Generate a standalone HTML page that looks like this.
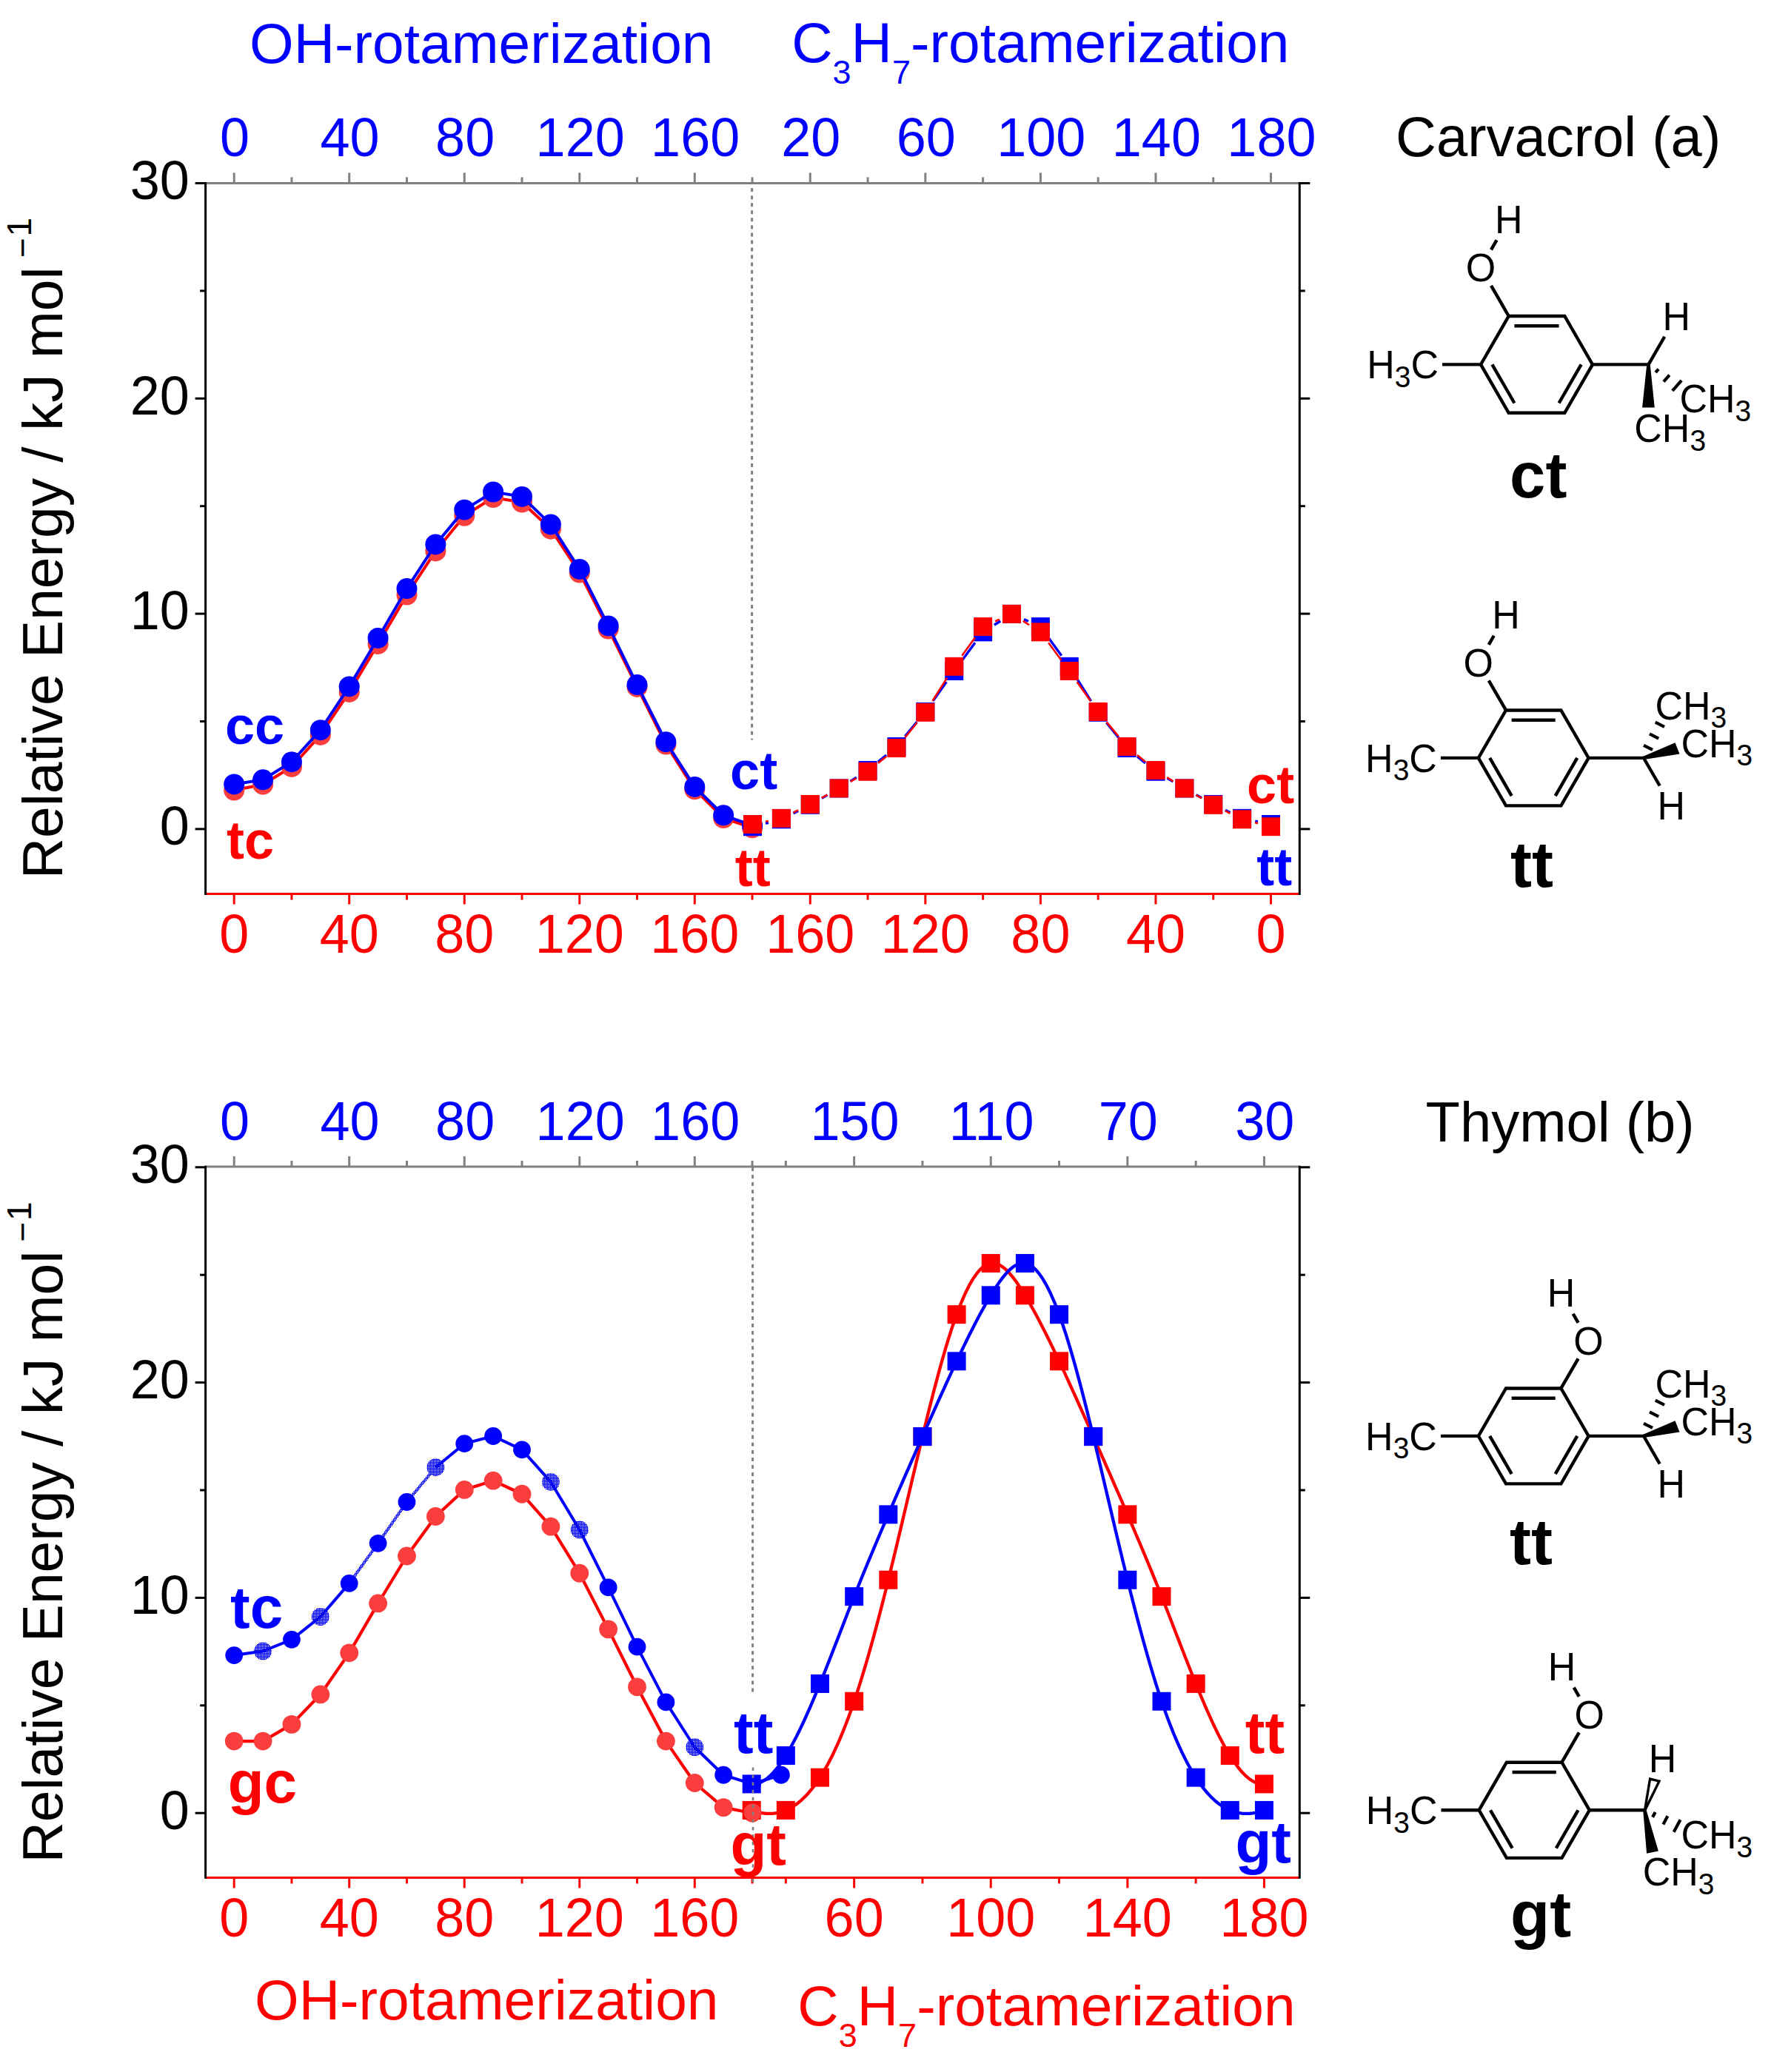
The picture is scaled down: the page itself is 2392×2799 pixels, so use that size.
<!DOCTYPE html><html><head><meta charset="utf-8"><title>Rotamerization energy profiles</title><style>html,body{margin:0;padding:0;background:#fff}svg{display:block}</style></head><body><svg width="2392" height="2799" viewBox="0 0 2392 2799" font-family="Liberation Sans, Arial, Helvetica, sans-serif">
<defs><pattern id="hb" width="2" height="2" patternUnits="userSpaceOnUse"><rect width="2" height="2" fill="#0000ff"/><rect x="0" y="0" width="1" height="1" fill="#ffffff"/></pattern></defs>
<rect width="2392" height="2799" fill="#fff"/>
<line x1="277.60" y1="247.40" x2="1755.30" y2="247.40" stroke="#808080" stroke-width="3.0" />
<line x1="277.60" y1="1207.60" x2="1755.30" y2="1207.60" stroke="#ff0000" stroke-width="3.0" />
<line x1="277.60" y1="246.10" x2="277.60" y2="1208.90" stroke="#000" stroke-width="3" />
<line x1="1755.30" y1="246.10" x2="1755.30" y2="1208.90" stroke="#000" stroke-width="3" />
<line x1="316.20" y1="247.40" x2="316.20" y2="233.40" stroke="#808080" stroke-width="3.0" />
<line x1="316.20" y1="1207.60" x2="316.20" y2="1221.60" stroke="#ff0000" stroke-width="3.0" />
<line x1="471.72" y1="247.40" x2="471.72" y2="233.40" stroke="#808080" stroke-width="3.0" />
<line x1="471.72" y1="1207.60" x2="471.72" y2="1221.60" stroke="#ff0000" stroke-width="3.0" />
<line x1="627.24" y1="247.40" x2="627.24" y2="233.40" stroke="#808080" stroke-width="3.0" />
<line x1="627.24" y1="1207.60" x2="627.24" y2="1221.60" stroke="#ff0000" stroke-width="3.0" />
<line x1="782.76" y1="247.40" x2="782.76" y2="233.40" stroke="#808080" stroke-width="3.0" />
<line x1="782.76" y1="1207.60" x2="782.76" y2="1221.60" stroke="#ff0000" stroke-width="3.0" />
<line x1="938.28" y1="247.40" x2="938.28" y2="233.40" stroke="#808080" stroke-width="3.0" />
<line x1="938.28" y1="1207.60" x2="938.28" y2="1221.60" stroke="#ff0000" stroke-width="3.0" />
<line x1="1094.28" y1="247.40" x2="1094.28" y2="233.40" stroke="#808080" stroke-width="3.0" />
<line x1="1094.28" y1="1207.60" x2="1094.28" y2="1221.60" stroke="#ff0000" stroke-width="3.0" />
<line x1="1249.84" y1="247.40" x2="1249.84" y2="233.40" stroke="#808080" stroke-width="3.0" />
<line x1="1249.84" y1="1207.60" x2="1249.84" y2="1221.60" stroke="#ff0000" stroke-width="3.0" />
<line x1="1405.40" y1="247.40" x2="1405.40" y2="233.40" stroke="#808080" stroke-width="3.0" />
<line x1="1405.40" y1="1207.60" x2="1405.40" y2="1221.60" stroke="#ff0000" stroke-width="3.0" />
<line x1="1560.96" y1="247.40" x2="1560.96" y2="233.40" stroke="#808080" stroke-width="3.0" />
<line x1="1560.96" y1="1207.60" x2="1560.96" y2="1221.60" stroke="#ff0000" stroke-width="3.0" />
<line x1="1716.52" y1="247.40" x2="1716.52" y2="233.40" stroke="#808080" stroke-width="3.0" />
<line x1="1716.52" y1="1207.60" x2="1716.52" y2="1221.60" stroke="#ff0000" stroke-width="3.0" />
<line x1="393.96" y1="247.40" x2="393.96" y2="239.40" stroke="#808080" stroke-width="3.0" />
<line x1="393.96" y1="1207.60" x2="393.96" y2="1215.60" stroke="#ff0000" stroke-width="3.0" />
<line x1="549.48" y1="247.40" x2="549.48" y2="239.40" stroke="#808080" stroke-width="3.0" />
<line x1="549.48" y1="1207.60" x2="549.48" y2="1215.60" stroke="#ff0000" stroke-width="3.0" />
<line x1="705.00" y1="247.40" x2="705.00" y2="239.40" stroke="#808080" stroke-width="3.0" />
<line x1="705.00" y1="1207.60" x2="705.00" y2="1215.60" stroke="#ff0000" stroke-width="3.0" />
<line x1="860.52" y1="247.40" x2="860.52" y2="239.40" stroke="#808080" stroke-width="3.0" />
<line x1="860.52" y1="1207.60" x2="860.52" y2="1215.60" stroke="#ff0000" stroke-width="3.0" />
<line x1="1016.04" y1="247.40" x2="1016.04" y2="239.40" stroke="#808080" stroke-width="3.0" />
<line x1="1016.04" y1="1207.60" x2="1016.04" y2="1215.60" stroke="#ff0000" stroke-width="3.0" />
<line x1="1172.06" y1="247.40" x2="1172.06" y2="239.40" stroke="#808080" stroke-width="3.0" />
<line x1="1172.06" y1="1207.60" x2="1172.06" y2="1215.60" stroke="#ff0000" stroke-width="3.0" />
<line x1="1327.62" y1="247.40" x2="1327.62" y2="239.40" stroke="#808080" stroke-width="3.0" />
<line x1="1327.62" y1="1207.60" x2="1327.62" y2="1215.60" stroke="#ff0000" stroke-width="3.0" />
<line x1="1483.18" y1="247.40" x2="1483.18" y2="239.40" stroke="#808080" stroke-width="3.0" />
<line x1="1483.18" y1="1207.60" x2="1483.18" y2="1215.60" stroke="#ff0000" stroke-width="3.0" />
<line x1="1638.74" y1="247.40" x2="1638.74" y2="239.40" stroke="#808080" stroke-width="3.0" />
<line x1="1638.74" y1="1207.60" x2="1638.74" y2="1215.60" stroke="#ff0000" stroke-width="3.0" />
<line x1="277.60" y1="1119.90" x2="263.60" y2="1119.90" stroke="#000" stroke-width="3.0" />
<line x1="1755.30" y1="1119.90" x2="1769.30" y2="1119.90" stroke="#000" stroke-width="3.0" />
<text transform="translate(255.80,1141.20) scale(1,1.035)" font-size="72" fill="#000" text-anchor="end" >0</text>
<line x1="277.60" y1="829.10" x2="263.60" y2="829.10" stroke="#000" stroke-width="3.0" />
<line x1="1755.30" y1="829.10" x2="1769.30" y2="829.10" stroke="#000" stroke-width="3.0" />
<text transform="translate(255.80,850.40) scale(1,1.035)" font-size="72" fill="#000" text-anchor="end" >10</text>
<line x1="277.60" y1="538.30" x2="263.60" y2="538.30" stroke="#000" stroke-width="3.0" />
<line x1="1755.30" y1="538.30" x2="1769.30" y2="538.30" stroke="#000" stroke-width="3.0" />
<text transform="translate(255.80,559.60) scale(1,1.035)" font-size="72" fill="#000" text-anchor="end" >20</text>
<line x1="277.60" y1="247.50" x2="263.60" y2="247.50" stroke="#000" stroke-width="3.0" />
<line x1="1755.30" y1="247.50" x2="1769.30" y2="247.50" stroke="#000" stroke-width="3.0" />
<text transform="translate(255.80,268.80) scale(1,1.035)" font-size="72" fill="#000" text-anchor="end" >30</text>
<line x1="277.60" y1="974.50" x2="270.10" y2="974.50" stroke="#000" stroke-width="3.0" />
<line x1="1755.30" y1="974.50" x2="1762.80" y2="974.50" stroke="#000" stroke-width="3.0" />
<line x1="277.60" y1="683.70" x2="270.10" y2="683.70" stroke="#000" stroke-width="3.0" />
<line x1="1755.30" y1="683.70" x2="1762.80" y2="683.70" stroke="#000" stroke-width="3.0" />
<line x1="277.60" y1="392.90" x2="270.10" y2="392.90" stroke="#000" stroke-width="3.0" />
<line x1="1755.30" y1="392.90" x2="1762.80" y2="392.90" stroke="#000" stroke-width="3.0" />
<text transform="translate(317.10,211.10) scale(1,1.035)" font-size="72" fill="#0000ff" text-anchor="middle" >0</text>
<text transform="translate(472.62,211.10) scale(1,1.035)" font-size="72" fill="#0000ff" text-anchor="middle" >40</text>
<text transform="translate(628.14,211.10) scale(1,1.035)" font-size="72" fill="#0000ff" text-anchor="middle" >80</text>
<text transform="translate(783.66,211.10) scale(1,1.035)" font-size="72" fill="#0000ff" text-anchor="middle" >120</text>
<text transform="translate(939.18,211.10) scale(1,1.035)" font-size="72" fill="#0000ff" text-anchor="middle" >160</text>
<text transform="translate(1095.18,211.10) scale(1,1.035)" font-size="72" fill="#0000ff" text-anchor="middle" >20</text>
<text transform="translate(1250.74,211.10) scale(1,1.035)" font-size="72" fill="#0000ff" text-anchor="middle" >60</text>
<text transform="translate(1406.30,211.10) scale(1,1.035)" font-size="72" fill="#0000ff" text-anchor="middle" >100</text>
<text transform="translate(1561.86,211.10) scale(1,1.035)" font-size="72" fill="#0000ff" text-anchor="middle" >140</text>
<text transform="translate(1717.42,211.10) scale(1,1.035)" font-size="72" fill="#0000ff" text-anchor="middle" >180</text>
<text transform="translate(316.20,1286.60) scale(1,1.035)" font-size="72" fill="#ff0000" text-anchor="middle" >0</text>
<text transform="translate(471.72,1286.60) scale(1,1.035)" font-size="72" fill="#ff0000" text-anchor="middle" >40</text>
<text transform="translate(627.24,1286.60) scale(1,1.035)" font-size="72" fill="#ff0000" text-anchor="middle" >80</text>
<text transform="translate(782.76,1286.60) scale(1,1.035)" font-size="72" fill="#ff0000" text-anchor="middle" >120</text>
<text transform="translate(938.28,1286.60) scale(1,1.035)" font-size="72" fill="#ff0000" text-anchor="middle" >160</text>
<text transform="translate(1094.28,1286.60) scale(1,1.035)" font-size="72" fill="#ff0000" text-anchor="middle" >160</text>
<text transform="translate(1249.84,1286.60) scale(1,1.035)" font-size="72" fill="#ff0000" text-anchor="middle" >120</text>
<text transform="translate(1405.40,1286.60) scale(1,1.035)" font-size="72" fill="#ff0000" text-anchor="middle" >80</text>
<text transform="translate(1560.96,1286.60) scale(1,1.035)" font-size="72" fill="#ff0000" text-anchor="middle" >40</text>
<text transform="translate(1716.52,1286.60) scale(1,1.035)" font-size="72" fill="#ff0000" text-anchor="middle" >0</text>
<line x1="1015.6" y1="254.1" x2="1015.6" y2="999.5" stroke="#808080" stroke-width="3" stroke-dasharray="5 5.05"/>
<polyline points="316.20,1067.51 355.08,1059.71 393.96,1035.97 432.84,992.93 471.72,934.89 510.60,869.96 549.48,803.58 588.36,744.46 627.24,696.74 666.12,672.11 705.00,678.50 743.88,714.72 782.76,773.50 821.64,849.58 860.52,927.96 899.40,1005.53 938.28,1066.30 977.16,1104.99 1016.04,1118.36" fill="none" stroke="#ff0000" stroke-width="4.0" stroke-linejoin="round" />
<circle cx="316.20" cy="1067.51" r="14" fill="#fa3e3e"/>
<circle cx="355.08" cy="1059.71" r="14" fill="#fa3e3e"/>
<circle cx="393.96" cy="1035.97" r="14" fill="#fa3e3e"/>
<circle cx="432.84" cy="992.93" r="14" fill="#fa3e3e"/>
<circle cx="471.72" cy="934.89" r="14" fill="#fa3e3e"/>
<circle cx="510.60" cy="869.96" r="14" fill="#fa3e3e"/>
<circle cx="549.48" cy="803.58" r="14" fill="#fa3e3e"/>
<circle cx="588.36" cy="744.46" r="14" fill="#fa3e3e"/>
<circle cx="627.24" cy="696.74" r="14" fill="#fa3e3e"/>
<circle cx="666.12" cy="672.11" r="14" fill="#fa3e3e"/>
<circle cx="705.00" cy="678.50" r="14" fill="#fa3e3e"/>
<circle cx="743.88" cy="714.72" r="14" fill="#fa3e3e"/>
<circle cx="782.76" cy="773.50" r="14" fill="#fa3e3e"/>
<circle cx="821.64" cy="849.58" r="14" fill="#fa3e3e"/>
<circle cx="860.52" cy="927.96" r="14" fill="#fa3e3e"/>
<circle cx="899.40" cy="1005.53" r="14" fill="#fa3e3e"/>
<circle cx="938.28" cy="1066.30" r="14" fill="#fa3e3e"/>
<circle cx="977.16" cy="1104.99" r="14" fill="#fa3e3e"/>
<circle cx="1016.04" cy="1118.36" r="14" fill="#fa3e3e"/>
<polyline points="316.20,1059.41 355.08,1053.31 393.96,1029.17 432.84,986.13 471.72,927.39 510.60,861.96 549.48,795.08 588.36,735.46 627.24,688.64 666.12,664.51 705.00,670.90 743.88,708.42 782.76,768.90 821.64,845.38 860.52,925.06 899.40,1002.13 938.28,1062.90 977.16,1101.29 1016.04,1114.96" fill="none" stroke="#0000ff" stroke-width="4.0" stroke-linejoin="round" />
<circle cx="316.20" cy="1059.41" r="14" fill="#0000ff"/>
<circle cx="355.08" cy="1053.31" r="14" fill="#0000ff"/>
<circle cx="393.96" cy="1029.17" r="14" fill="#0000ff"/>
<circle cx="432.84" cy="986.13" r="14" fill="#0000ff"/>
<circle cx="471.72" cy="927.39" r="14" fill="#0000ff"/>
<circle cx="510.60" cy="861.96" r="14" fill="#0000ff"/>
<circle cx="549.48" cy="795.08" r="14" fill="#0000ff"/>
<circle cx="588.36" cy="735.46" r="14" fill="#0000ff"/>
<circle cx="627.24" cy="688.64" r="14" fill="#0000ff"/>
<circle cx="666.12" cy="664.51" r="14" fill="#0000ff"/>
<circle cx="705.00" cy="670.90" r="14" fill="#0000ff"/>
<circle cx="743.88" cy="708.42" r="14" fill="#0000ff"/>
<circle cx="782.76" cy="768.90" r="14" fill="#0000ff"/>
<circle cx="821.64" cy="845.38" r="14" fill="#0000ff"/>
<circle cx="860.52" cy="925.06" r="14" fill="#0000ff"/>
<circle cx="899.40" cy="1002.13" r="14" fill="#0000ff"/>
<circle cx="938.28" cy="1062.90" r="14" fill="#0000ff"/>
<circle cx="977.16" cy="1101.29" r="14" fill="#0000ff"/>
<circle cx="1016.04" cy="1114.96" r="14" fill="#0000ff"/>
<line x1="1033.95" y1="1112.27" x2="1037.94" y2="1111.25" stroke="#0000ff" stroke-width="3.4" />
<line x1="1071.48" y1="1098.75" x2="1078.19" y2="1095.39" stroke="#0000ff" stroke-width="3.4" />
<line x1="1109.88" y1="1078.35" x2="1117.57" y2="1073.92" stroke="#0000ff" stroke-width="3.4" />
<line x1="1148.41" y1="1055.36" x2="1156.82" y2="1050.09" stroke="#0000ff" stroke-width="3.4" />
<line x1="1185.96" y1="1029.08" x2="1197.05" y2="1019.96" stroke="#0000ff" stroke-width="3.4" />
<line x1="1222.41" y1="994.64" x2="1238.38" y2="975.30" stroke="#0000ff" stroke-width="3.4" />
<line x1="1260.24" y1="946.72" x2="1278.33" y2="921.15" stroke="#0000ff" stroke-width="3.4" />
<line x1="1299.43" y1="891.98" x2="1316.92" y2="868.30" stroke="#0000ff" stroke-width="3.4" />
<line x1="1342.86" y1="844.24" x2="1351.27" y2="838.96" stroke="#0000ff" stroke-width="3.4" />
<line x1="1382.98" y1="836.66" x2="1388.93" y2="839.28" stroke="#0000ff" stroke-width="3.4" />
<line x1="1415.95" y1="861.14" x2="1433.74" y2="885.76" stroke="#0000ff" stroke-width="3.4" />
<line x1="1453.86" y1="915.59" x2="1473.61" y2="947.04" stroke="#0000ff" stroke-width="3.4" />
<line x1="1494.47" y1="976.30" x2="1510.78" y2="996.54" stroke="#0000ff" stroke-width="3.4" />
<line x1="1536.02" y1="1021.93" x2="1547.01" y2="1030.88" stroke="#0000ff" stroke-width="3.4" />
<line x1="1576.51" y1="1051.33" x2="1584.30" y2="1055.87" stroke="#0000ff" stroke-width="3.4" />
<line x1="1615.60" y1="1073.65" x2="1622.99" y2="1077.74" stroke="#0000ff" stroke-width="3.4" />
<line x1="1654.93" y1="1094.33" x2="1661.44" y2="1097.49" stroke="#0000ff" stroke-width="3.4" />
<line x1="1695.25" y1="1109.05" x2="1698.90" y2="1109.81" stroke="#0000ff" stroke-width="3.4" />
<rect x="1004.00" y="1104.20" width="25" height="25" fill="#0000ff"/>
<rect x="1042.89" y="1094.31" width="25" height="25" fill="#0000ff"/>
<rect x="1081.78" y="1074.83" width="25" height="25" fill="#0000ff"/>
<rect x="1120.67" y="1052.44" width="25" height="25" fill="#0000ff"/>
<rect x="1159.56" y="1028.01" width="25" height="25" fill="#0000ff"/>
<rect x="1198.45" y="996.02" width="25" height="25" fill="#0000ff"/>
<rect x="1237.34" y="948.91" width="25" height="25" fill="#0000ff"/>
<rect x="1276.23" y="893.95" width="25" height="25" fill="#0000ff"/>
<rect x="1315.12" y="841.32" width="25" height="25" fill="#0000ff"/>
<rect x="1354.01" y="816.89" width="25" height="25" fill="#0000ff"/>
<rect x="1392.90" y="834.05" width="25" height="25" fill="#0000ff"/>
<rect x="1431.79" y="887.85" width="25" height="25" fill="#0000ff"/>
<rect x="1470.68" y="949.79" width="25" height="25" fill="#0000ff"/>
<rect x="1509.57" y="998.06" width="25" height="25" fill="#0000ff"/>
<rect x="1548.46" y="1029.76" width="25" height="25" fill="#0000ff"/>
<rect x="1587.35" y="1052.44" width="25" height="25" fill="#0000ff"/>
<rect x="1626.24" y="1073.96" width="25" height="25" fill="#0000ff"/>
<rect x="1665.13" y="1092.86" width="25" height="25" fill="#0000ff"/>
<rect x="1704.02" y="1101.00" width="25" height="25" fill="#0000ff"/>
<line x1="1034.12" y1="1109.81" x2="1037.77" y2="1109.05" stroke="#ff0000" stroke-width="2.6" />
<line x1="1071.58" y1="1097.49" x2="1078.09" y2="1094.33" stroke="#ff0000" stroke-width="2.6" />
<line x1="1110.03" y1="1077.74" x2="1117.42" y2="1073.65" stroke="#ff0000" stroke-width="2.6" />
<line x1="1148.72" y1="1055.87" x2="1156.51" y2="1051.33" stroke="#ff0000" stroke-width="2.6" />
<line x1="1186.01" y1="1030.88" x2="1197.00" y2="1021.93" stroke="#ff0000" stroke-width="2.6" />
<line x1="1222.24" y1="996.54" x2="1238.55" y2="976.30" stroke="#ff0000" stroke-width="2.6" />
<line x1="1259.41" y1="947.04" x2="1279.16" y2="915.59" stroke="#ff0000" stroke-width="2.6" />
<line x1="1299.28" y1="885.76" x2="1317.07" y2="861.14" stroke="#ff0000" stroke-width="2.6" />
<line x1="1344.09" y1="839.28" x2="1350.04" y2="836.66" stroke="#ff0000" stroke-width="2.6" />
<line x1="1381.75" y1="838.96" x2="1390.16" y2="844.24" stroke="#ff0000" stroke-width="2.6" />
<line x1="1416.10" y1="868.30" x2="1433.59" y2="891.98" stroke="#ff0000" stroke-width="2.6" />
<line x1="1454.69" y1="921.15" x2="1472.78" y2="946.72" stroke="#ff0000" stroke-width="2.6" />
<line x1="1494.64" y1="975.30" x2="1510.61" y2="994.64" stroke="#ff0000" stroke-width="2.6" />
<line x1="1535.97" y1="1019.96" x2="1547.06" y2="1029.08" stroke="#ff0000" stroke-width="2.6" />
<line x1="1576.20" y1="1050.09" x2="1584.61" y2="1055.36" stroke="#ff0000" stroke-width="2.6" />
<line x1="1615.45" y1="1073.92" x2="1623.14" y2="1078.35" stroke="#ff0000" stroke-width="2.6" />
<line x1="1654.83" y1="1095.39" x2="1661.54" y2="1098.75" stroke="#ff0000" stroke-width="2.6" />
<line x1="1695.08" y1="1111.25" x2="1699.07" y2="1112.27" stroke="#ff0000" stroke-width="2.6" />
<rect x="1004.00" y="1101.00" width="25" height="25" fill="#ff0000"/>
<rect x="1042.89" y="1092.86" width="25" height="25" fill="#ff0000"/>
<rect x="1081.78" y="1073.96" width="25" height="25" fill="#ff0000"/>
<rect x="1120.67" y="1052.44" width="25" height="25" fill="#ff0000"/>
<rect x="1159.56" y="1029.76" width="25" height="25" fill="#ff0000"/>
<rect x="1198.45" y="998.06" width="25" height="25" fill="#ff0000"/>
<rect x="1237.34" y="949.79" width="25" height="25" fill="#ff0000"/>
<rect x="1276.23" y="887.85" width="25" height="25" fill="#ff0000"/>
<rect x="1315.12" y="834.05" width="25" height="25" fill="#ff0000"/>
<rect x="1354.01" y="816.89" width="25" height="25" fill="#ff0000"/>
<rect x="1392.90" y="841.32" width="25" height="25" fill="#ff0000"/>
<rect x="1431.79" y="893.95" width="25" height="25" fill="#ff0000"/>
<rect x="1470.68" y="948.91" width="25" height="25" fill="#ff0000"/>
<rect x="1509.57" y="996.02" width="25" height="25" fill="#ff0000"/>
<rect x="1548.46" y="1028.01" width="25" height="25" fill="#ff0000"/>
<rect x="1587.35" y="1052.44" width="25" height="25" fill="#ff0000"/>
<rect x="1626.24" y="1074.83" width="25" height="25" fill="#ff0000"/>
<rect x="1665.13" y="1094.31" width="25" height="25" fill="#ff0000"/>
<rect x="1704.02" y="1104.20" width="25" height="25" fill="#ff0000"/>
<text x="304.00" y="1005.30" font-size="72" fill="#0000ff" text-anchor="start" font-weight="bold" >cc</text>
<text x="306.00" y="1160.00" font-size="72" fill="#ff0000" text-anchor="start" font-weight="bold" >tc</text>
<text x="986.10" y="1066.40" font-size="72" fill="#0000ff" text-anchor="start" font-weight="bold" >ct</text>
<text x="992.70" y="1197.20" font-size="72" fill="#ff0000" text-anchor="start" font-weight="bold" >tt</text>
<text x="1684.10" y="1085.20" font-size="72" fill="#ff0000" text-anchor="start" font-weight="bold" >ct</text>
<text x="1697.30" y="1196.30" font-size="72" fill="#0000ff" text-anchor="start" font-weight="bold" >tt</text>
<line x1="277.60" y1="1576.00" x2="1755.30" y2="1576.00" stroke="#808080" stroke-width="3.0" />
<line x1="277.60" y1="2536.50" x2="1755.30" y2="2536.50" stroke="#ff0000" stroke-width="3.0" />
<line x1="277.60" y1="1574.70" x2="277.60" y2="2537.80" stroke="#000" stroke-width="3" />
<line x1="1755.30" y1="1574.70" x2="1755.30" y2="2537.80" stroke="#000" stroke-width="3" />
<line x1="316.20" y1="1576.00" x2="316.20" y2="1562.00" stroke="#808080" stroke-width="3.0" />
<line x1="316.20" y1="2536.50" x2="316.20" y2="2550.50" stroke="#ff0000" stroke-width="3.0" />
<line x1="471.72" y1="1576.00" x2="471.72" y2="1562.00" stroke="#808080" stroke-width="3.0" />
<line x1="471.72" y1="2536.50" x2="471.72" y2="2550.50" stroke="#ff0000" stroke-width="3.0" />
<line x1="627.24" y1="1576.00" x2="627.24" y2="1562.00" stroke="#808080" stroke-width="3.0" />
<line x1="627.24" y1="2536.50" x2="627.24" y2="2550.50" stroke="#ff0000" stroke-width="3.0" />
<line x1="782.76" y1="1576.00" x2="782.76" y2="1562.00" stroke="#808080" stroke-width="3.0" />
<line x1="782.76" y1="2536.50" x2="782.76" y2="2550.50" stroke="#ff0000" stroke-width="3.0" />
<line x1="938.28" y1="1576.00" x2="938.28" y2="1562.00" stroke="#808080" stroke-width="3.0" />
<line x1="938.28" y1="2536.50" x2="938.28" y2="2550.50" stroke="#ff0000" stroke-width="3.0" />
<line x1="1153.65" y1="1576.00" x2="1153.65" y2="1562.00" stroke="#808080" stroke-width="3.0" />
<line x1="1153.65" y1="2536.50" x2="1153.65" y2="2550.50" stroke="#ff0000" stroke-width="3.0" />
<line x1="1338.25" y1="1576.00" x2="1338.25" y2="1562.00" stroke="#808080" stroke-width="3.0" />
<line x1="1338.25" y1="2536.50" x2="1338.25" y2="2550.50" stroke="#ff0000" stroke-width="3.0" />
<line x1="1522.85" y1="1576.00" x2="1522.85" y2="1562.00" stroke="#808080" stroke-width="3.0" />
<line x1="1522.85" y1="2536.50" x2="1522.85" y2="2550.50" stroke="#ff0000" stroke-width="3.0" />
<line x1="1707.45" y1="1576.00" x2="1707.45" y2="1562.00" stroke="#808080" stroke-width="3.0" />
<line x1="1707.45" y1="2536.50" x2="1707.45" y2="2550.50" stroke="#ff0000" stroke-width="3.0" />
<line x1="393.96" y1="1576.00" x2="393.96" y2="1568.00" stroke="#808080" stroke-width="3.0" />
<line x1="393.96" y1="2536.50" x2="393.96" y2="2544.50" stroke="#ff0000" stroke-width="3.0" />
<line x1="549.48" y1="1576.00" x2="549.48" y2="1568.00" stroke="#808080" stroke-width="3.0" />
<line x1="549.48" y1="2536.50" x2="549.48" y2="2544.50" stroke="#ff0000" stroke-width="3.0" />
<line x1="705.00" y1="1576.00" x2="705.00" y2="1568.00" stroke="#808080" stroke-width="3.0" />
<line x1="705.00" y1="2536.50" x2="705.00" y2="2544.50" stroke="#ff0000" stroke-width="3.0" />
<line x1="860.52" y1="1576.00" x2="860.52" y2="1568.00" stroke="#808080" stroke-width="3.0" />
<line x1="860.52" y1="2536.50" x2="860.52" y2="2544.50" stroke="#ff0000" stroke-width="3.0" />
<line x1="1016.04" y1="1576.00" x2="1016.04" y2="1568.00" stroke="#808080" stroke-width="3.0" />
<line x1="1016.04" y1="2536.50" x2="1016.04" y2="2544.50" stroke="#ff0000" stroke-width="3.0" />
<line x1="1061.35" y1="1576.00" x2="1061.35" y2="1568.00" stroke="#808080" stroke-width="3.0" />
<line x1="1061.35" y1="2536.50" x2="1061.35" y2="2544.50" stroke="#ff0000" stroke-width="3.0" />
<line x1="1245.95" y1="1576.00" x2="1245.95" y2="1568.00" stroke="#808080" stroke-width="3.0" />
<line x1="1245.95" y1="2536.50" x2="1245.95" y2="2544.50" stroke="#ff0000" stroke-width="3.0" />
<line x1="1430.55" y1="1576.00" x2="1430.55" y2="1568.00" stroke="#808080" stroke-width="3.0" />
<line x1="1430.55" y1="2536.50" x2="1430.55" y2="2544.50" stroke="#ff0000" stroke-width="3.0" />
<line x1="1615.15" y1="1576.00" x2="1615.15" y2="1568.00" stroke="#808080" stroke-width="3.0" />
<line x1="1615.15" y1="2536.50" x2="1615.15" y2="2544.50" stroke="#ff0000" stroke-width="3.0" />
<line x1="277.60" y1="2449.20" x2="263.60" y2="2449.20" stroke="#000" stroke-width="3.0" />
<line x1="1755.30" y1="2449.20" x2="1769.30" y2="2449.20" stroke="#000" stroke-width="3.0" />
<text transform="translate(255.80,2470.50) scale(1,1.035)" font-size="72" fill="#000" text-anchor="end" >0</text>
<line x1="277.60" y1="2158.40" x2="263.60" y2="2158.40" stroke="#000" stroke-width="3.0" />
<line x1="1755.30" y1="2158.40" x2="1769.30" y2="2158.40" stroke="#000" stroke-width="3.0" />
<text transform="translate(255.80,2179.70) scale(1,1.035)" font-size="72" fill="#000" text-anchor="end" >10</text>
<line x1="277.60" y1="1867.60" x2="263.60" y2="1867.60" stroke="#000" stroke-width="3.0" />
<line x1="1755.30" y1="1867.60" x2="1769.30" y2="1867.60" stroke="#000" stroke-width="3.0" />
<text transform="translate(255.80,1888.90) scale(1,1.035)" font-size="72" fill="#000" text-anchor="end" >20</text>
<line x1="277.60" y1="1576.80" x2="263.60" y2="1576.80" stroke="#000" stroke-width="3.0" />
<line x1="1755.30" y1="1576.80" x2="1769.30" y2="1576.80" stroke="#000" stroke-width="3.0" />
<text transform="translate(255.80,1598.10) scale(1,1.035)" font-size="72" fill="#000" text-anchor="end" >30</text>
<line x1="277.60" y1="2303.80" x2="270.10" y2="2303.80" stroke="#000" stroke-width="3.0" />
<line x1="1755.30" y1="2303.80" x2="1762.80" y2="2303.80" stroke="#000" stroke-width="3.0" />
<line x1="277.60" y1="2013.00" x2="270.10" y2="2013.00" stroke="#000" stroke-width="3.0" />
<line x1="1755.30" y1="2013.00" x2="1762.80" y2="2013.00" stroke="#000" stroke-width="3.0" />
<line x1="277.60" y1="1722.20" x2="270.10" y2="1722.20" stroke="#000" stroke-width="3.0" />
<line x1="1755.30" y1="1722.20" x2="1762.80" y2="1722.20" stroke="#000" stroke-width="3.0" />
<text transform="translate(317.10,1539.70) scale(1,1.035)" font-size="72" fill="#0000ff" text-anchor="middle" >0</text>
<text transform="translate(472.62,1539.70) scale(1,1.035)" font-size="72" fill="#0000ff" text-anchor="middle" >40</text>
<text transform="translate(628.14,1539.70) scale(1,1.035)" font-size="72" fill="#0000ff" text-anchor="middle" >80</text>
<text transform="translate(783.66,1539.70) scale(1,1.035)" font-size="72" fill="#0000ff" text-anchor="middle" >120</text>
<text transform="translate(939.18,1539.70) scale(1,1.035)" font-size="72" fill="#0000ff" text-anchor="middle" >160</text>
<text transform="translate(1154.55,1539.70) scale(1,1.035)" font-size="72" fill="#0000ff" text-anchor="middle" >150</text>
<text transform="translate(1339.15,1539.70) scale(1,1.035)" font-size="72" fill="#0000ff" text-anchor="middle" >110</text>
<text transform="translate(1523.75,1539.70) scale(1,1.035)" font-size="72" fill="#0000ff" text-anchor="middle" >70</text>
<text transform="translate(1708.35,1539.70) scale(1,1.035)" font-size="72" fill="#0000ff" text-anchor="middle" >30</text>
<text transform="translate(316.20,2615.50) scale(1,1.035)" font-size="72" fill="#ff0000" text-anchor="middle" >0</text>
<text transform="translate(471.72,2615.50) scale(1,1.035)" font-size="72" fill="#ff0000" text-anchor="middle" >40</text>
<text transform="translate(627.24,2615.50) scale(1,1.035)" font-size="72" fill="#ff0000" text-anchor="middle" >80</text>
<text transform="translate(782.76,2615.50) scale(1,1.035)" font-size="72" fill="#ff0000" text-anchor="middle" >120</text>
<text transform="translate(938.28,2615.50) scale(1,1.035)" font-size="72" fill="#ff0000" text-anchor="middle" >160</text>
<text transform="translate(1153.65,2615.50) scale(1,1.035)" font-size="72" fill="#ff0000" text-anchor="middle" >60</text>
<text transform="translate(1338.25,2615.50) scale(1,1.035)" font-size="72" fill="#ff0000" text-anchor="middle" >100</text>
<text transform="translate(1522.85,2615.50) scale(1,1.035)" font-size="72" fill="#ff0000" text-anchor="middle" >140</text>
<text transform="translate(1707.45,2615.50) scale(1,1.035)" font-size="72" fill="#ff0000" text-anchor="middle" >180</text>
<line x1="1016.6" y1="1577" x2="1016.6" y2="2290" stroke="#808080" stroke-width="3" stroke-dasharray="5 5.05"/>
<polyline points="316.20,2352.07 355.08,2352.07 393.96,2329.39 432.84,2288.97 471.72,2232.84 510.60,2165.96 549.48,2101.98 588.36,2048.48 627.24,2012.42 666.12,2000.20 705.00,2018.23 743.88,2062.15 782.76,2125.25 821.64,2200.86 860.52,2278.79 899.40,2352.07 938.28,2408.49 977.16,2441.64 1016.04,2449.20" fill="none" stroke="#ff0000" stroke-width="4.2" stroke-linejoin="round" />
<circle cx="316.20" cy="2352.07" r="12.4" fill="#fa3e3e"/>
<circle cx="355.08" cy="2352.07" r="12.4" fill="#fa3e3e"/>
<circle cx="393.96" cy="2329.39" r="12.4" fill="#fa3e3e"/>
<circle cx="432.84" cy="2288.97" r="12.4" fill="#fa3e3e"/>
<circle cx="471.72" cy="2232.84" r="12.4" fill="#fa3e3e"/>
<circle cx="510.60" cy="2165.96" r="12.4" fill="#fa3e3e"/>
<circle cx="549.48" cy="2101.98" r="12.4" fill="#fa3e3e"/>
<circle cx="588.36" cy="2048.48" r="12.4" fill="#fa3e3e"/>
<circle cx="627.24" cy="2012.42" r="12.4" fill="#fa3e3e"/>
<circle cx="666.12" cy="2000.20" r="12.4" fill="#fa3e3e"/>
<circle cx="705.00" cy="2018.23" r="12.4" fill="#fa3e3e"/>
<circle cx="743.88" cy="2062.15" r="12.4" fill="#fa3e3e"/>
<circle cx="782.76" cy="2125.25" r="12.4" fill="#fa3e3e"/>
<circle cx="821.64" cy="2200.86" r="12.4" fill="#fa3e3e"/>
<circle cx="860.52" cy="2278.79" r="12.4" fill="#fa3e3e"/>
<circle cx="899.40" cy="2352.07" r="12.4" fill="#fa3e3e"/>
<circle cx="938.28" cy="2408.49" r="12.4" fill="#fa3e3e"/>
<circle cx="977.16" cy="2441.64" r="12.4" fill="#fa3e3e"/>
<circle cx="1016.04" cy="2449.20" r="12.4" fill="#fa3e3e"/>
<polyline points="471.72,2138.92 510.60,2084.83 549.48,2028.99 588.36,1982.18" fill="none" stroke="url(#hb)" stroke-width="4.0" stroke-linejoin="round" />
<circle cx="355.08" cy="2230.52" r="11.9" fill="url(#hb)"/>
<circle cx="432.84" cy="2183.99" r="11.9" fill="url(#hb)"/>
<circle cx="588.36" cy="1982.18" r="11.9" fill="url(#hb)"/>
<circle cx="743.88" cy="2001.95" r="11.9" fill="url(#hb)"/>
<circle cx="782.76" cy="2066.51" r="11.9" fill="url(#hb)"/>
<circle cx="938.28" cy="2360.22" r="11.9" fill="url(#hb)"/>
<polyline points="316.20,2236.04 355.08,2230.52 393.96,2214.82 432.84,2183.99 471.72,2138.92" fill="none" stroke="#0000ff" stroke-width="4.0" stroke-linejoin="round" />
<polyline points="588.36,1982.18 627.24,1950.19 666.12,1940.01 705.00,1958.33 743.88,2001.95 782.76,2066.51 821.64,2144.44 860.52,2224.70 899.40,2299.44 938.28,2360.22 977.16,2397.73 1016.04,2409.94 1054.92,2397.73" fill="none" stroke="#0000ff" stroke-width="4.0" stroke-linejoin="round" />
<circle cx="316.20" cy="2236.04" r="11.9" fill="#0000ff"/>
<circle cx="393.96" cy="2214.82" r="11.9" fill="#0000ff"/>
<circle cx="471.72" cy="2138.92" r="11.9" fill="#0000ff"/>
<circle cx="510.60" cy="2084.83" r="11.9" fill="#0000ff"/>
<circle cx="549.48" cy="2028.99" r="11.9" fill="#0000ff"/>
<circle cx="627.24" cy="1950.19" r="11.9" fill="#0000ff"/>
<circle cx="666.12" cy="1940.01" r="11.9" fill="#0000ff"/>
<circle cx="705.00" cy="1958.33" r="11.9" fill="#0000ff"/>
<circle cx="821.64" cy="2144.44" r="11.9" fill="#0000ff"/>
<circle cx="860.52" cy="2224.70" r="11.9" fill="#0000ff"/>
<circle cx="899.40" cy="2299.44" r="11.9" fill="#0000ff"/>
<circle cx="977.16" cy="2397.73" r="11.9" fill="#0000ff"/>
<circle cx="1016.04" cy="2409.94" r="11.9" fill="#0000ff"/>
<circle cx="1054.92" cy="2397.73" r="11.9" fill="#0000ff"/>
<polyline points="1015.20,2445.42 1016.93,2446.03 1018.67,2446.60 1020.40,2447.13 1022.14,2447.62 1023.87,2448.06 1025.61,2448.46 1027.34,2448.82 1029.08,2449.12 1030.81,2449.39 1032.55,2449.60 1034.28,2449.76 1036.02,2449.88 1037.75,2449.95 1039.49,2449.96 1041.22,2449.92 1042.96,2449.83 1044.69,2449.69 1046.43,2449.49 1048.16,2449.24 1049.90,2448.93 1051.63,2448.56 1053.37,2448.14 1055.10,2447.66 1056.84,2447.11 1058.57,2446.51 1060.31,2445.85 1062.04,2445.12 1063.78,2444.33 1065.51,2443.48 1067.25,2442.57 1068.98,2441.58 1070.72,2440.54 1072.45,2439.42 1074.19,2438.24 1075.92,2436.99 1077.66,2435.67 1079.39,2434.27 1081.13,2432.81 1082.86,2431.28 1084.60,2429.67 1086.33,2427.99 1088.07,2426.23 1089.80,2424.40 1091.54,2422.49 1093.27,2420.51 1095.01,2418.45 1096.74,2416.30 1098.48,2414.08 1100.21,2411.78 1101.95,2409.40 1103.68,2406.93 1105.42,2404.39 1107.15,2401.75 1108.89,2399.04 1110.62,2396.24 1112.36,2393.35 1114.09,2390.38 1115.83,2387.32 1117.56,2384.17 1119.30,2380.94 1121.03,2377.61 1122.77,2374.20 1124.50,2370.70 1126.24,2367.12 1127.97,2363.44 1129.71,2359.67 1131.44,2355.82 1133.18,2351.87 1134.91,2347.83 1136.65,2343.70 1138.38,2339.47 1140.12,2335.16 1141.85,2330.75 1143.59,2326.25 1145.32,2321.65 1147.06,2316.96 1148.79,2312.18 1150.53,2307.30 1152.26,2302.32 1154.00,2297.25 1155.73,2292.09 1157.47,2286.83 1159.20,2281.47 1160.94,2276.03 1162.67,2270.50 1164.41,2264.88 1166.14,2259.17 1167.88,2253.39 1169.61,2247.52 1171.35,2241.57 1173.08,2235.55 1174.82,2229.44 1176.55,2223.27 1178.29,2217.02 1180.02,2210.70 1181.76,2204.31 1183.49,2197.86 1185.23,2191.34 1186.96,2184.76 1188.70,2178.12 1190.43,2171.41 1192.17,2164.65 1193.90,2157.83 1195.64,2150.96 1197.37,2144.04 1199.11,2137.07 1200.84,2130.04 1202.58,2122.98 1204.31,2115.86 1206.05,2108.71 1207.78,2101.53 1209.52,2094.31 1211.25,2087.05 1212.99,2079.78 1214.72,2072.47 1216.46,2065.15 1218.19,2057.81 1219.93,2050.46 1221.66,2043.09 1223.40,2035.72 1225.13,2028.34 1226.87,2020.96 1228.60,2013.58 1230.34,2006.21 1232.07,1998.85 1233.81,1991.49 1235.54,1984.15 1237.28,1976.83 1239.01,1969.53 1240.75,1962.25 1242.48,1955.00 1244.22,1947.78 1245.95,1940.59 1247.68,1933.44 1249.42,1926.33 1251.15,1919.26 1252.89,1912.25 1254.62,1905.28 1256.36,1898.38 1258.09,1891.53 1259.83,1884.75 1261.56,1878.04 1263.30,1871.41 1265.03,1864.85 1266.77,1858.37 1268.50,1851.98 1270.24,1845.68 1271.97,1839.47 1273.71,1833.36 1275.44,1827.35 1277.18,1821.45 1278.91,1815.66 1280.65,1809.99 1282.38,1804.43 1284.12,1799.00 1285.85,1793.69 1287.59,1788.52 1289.32,1783.48 1291.06,1778.58 1292.79,1773.82 1294.53,1769.21 1296.26,1764.75 1298.00,1760.44 1299.73,1756.28 1301.47,1752.27 1303.20,1748.42 1304.94,1744.73 1306.67,1741.19 1308.41,1737.81 1310.14,1734.60 1311.88,1731.55 1313.61,1728.66 1315.35,1725.95 1317.08,1723.40 1318.82,1721.02 1320.55,1718.81 1322.29,1716.77 1324.02,1714.91 1325.76,1713.23 1327.49,1711.73 1329.23,1710.41 1330.96,1709.26 1332.70,1708.31 1334.43,1707.53 1336.17,1706.95 1337.90,1706.55 1339.64,1706.35 1341.37,1706.33 1343.11,1706.49 1344.84,1706.82 1346.58,1707.33 1348.31,1708.00 1350.05,1708.83 1351.78,1709.81 1353.52,1710.95 1355.25,1712.22 1356.99,1713.63 1358.72,1715.17 1360.46,1716.84 1362.19,1718.63 1363.93,1720.54 1365.66,1722.55 1367.40,1724.67 1369.13,1726.89 1370.87,1729.20 1372.60,1731.60 1374.34,1734.08 1376.07,1736.64 1377.81,1739.27 1379.54,1741.97 1381.28,1744.73 1383.01,1747.54 1384.75,1750.40 1386.48,1753.31 1388.22,1756.26 1389.95,1759.26 1391.69,1762.29 1393.42,1765.37 1395.16,1768.48 1396.89,1771.64 1398.63,1774.83 1400.36,1778.06 1402.10,1781.32 1403.83,1784.61 1405.57,1787.94 1407.30,1791.30 1409.04,1794.69 1410.77,1798.11 1412.51,1801.56 1414.24,1805.04 1415.98,1808.54 1417.71,1812.06 1419.45,1815.61 1421.18,1819.18 1422.92,1822.78 1424.65,1826.39 1426.39,1830.02 1428.12,1833.67 1429.86,1837.34 1431.59,1841.02 1433.33,1844.72 1435.06,1848.43 1436.80,1852.16 1438.53,1855.90 1440.27,1859.65 1442.00,1863.42 1443.74,1867.20 1445.47,1870.99 1447.21,1874.79 1448.94,1878.60 1450.68,1882.42 1452.41,1886.25 1454.15,1890.09 1455.88,1893.93 1457.62,1897.79 1459.35,1901.65 1461.09,1905.52 1462.82,1909.40 1464.56,1913.28 1466.29,1917.17 1468.03,1921.07 1469.76,1924.96 1471.50,1928.87 1473.23,1932.77 1474.97,1936.68 1476.70,1940.59 1478.43,1944.50 1480.17,1948.42 1481.90,1952.34 1483.64,1956.26 1485.37,1960.18 1487.11,1964.11 1488.84,1968.04 1490.58,1971.97 1492.31,1975.90 1494.05,1979.84 1495.78,1983.78 1497.52,1987.73 1499.25,1991.68 1500.99,1995.63 1502.72,1999.59 1504.46,2003.55 1506.19,2007.52 1507.93,2011.49 1509.66,2015.47 1511.40,2019.45 1513.13,2023.43 1514.87,2027.43 1516.60,2031.42 1518.34,2035.43 1520.07,2039.43 1521.81,2043.45 1523.54,2047.47 1525.28,2051.50 1527.01,2055.53 1528.75,2059.57 1530.48,2063.62 1532.22,2067.68 1533.95,2071.74 1535.69,2075.82 1537.42,2079.91 1539.16,2084.00 1540.89,2088.11 1542.63,2092.23 1544.36,2096.36 1546.10,2100.50 1547.83,2104.66 1549.57,2108.83 1551.30,2113.02 1553.04,2117.22 1554.77,2121.44 1556.51,2125.67 1558.24,2129.92 1559.98,2134.18 1561.71,2138.46 1563.45,2142.76 1565.18,2147.08 1566.92,2151.42 1568.65,2155.78 1570.39,2160.16 1572.12,2164.56 1573.86,2168.97 1575.59,2173.40 1577.33,2177.84 1579.06,2182.30 1580.80,2186.76 1582.53,2191.23 1584.27,2195.71 1586.00,2200.19 1587.74,2204.68 1589.47,2209.16 1591.21,2213.65 1592.94,2218.13 1594.68,2222.60 1596.41,2227.07 1598.15,2231.53 1599.88,2235.99 1601.62,2240.42 1603.35,2244.85 1605.09,2249.26 1606.82,2253.65 1608.56,2258.02 1610.29,2262.37 1612.03,2266.70 1613.76,2271.01 1615.50,2275.28 1617.23,2279.53 1618.97,2283.75 1620.70,2287.93 1622.44,2292.08 1624.17,2296.20 1625.91,2300.27 1627.64,2304.31 1629.38,2308.30 1631.11,2312.24 1632.85,2316.14 1634.58,2319.99 1636.32,2323.79 1638.05,2327.53 1639.79,2331.22 1641.52,2334.86 1643.26,2338.43 1644.99,2341.94 1646.73,2345.39 1648.46,2348.77 1650.20,2352.09 1651.93,2355.33 1653.67,2358.50 1655.40,2361.60 1657.14,2364.62 1658.87,2367.57 1660.61,2370.43 1662.34,2373.22 1664.08,2375.91 1665.81,2378.53 1667.55,2381.05 1669.28,2383.48 1671.02,2385.82 1672.75,2388.07 1674.49,2390.22 1676.22,2392.27 1677.96,2394.22 1679.69,2396.06 1681.43,2397.81 1683.16,2399.44 1684.90,2400.97 1686.63,2402.38 1688.37,2403.68 1690.10,2404.87 1691.84,2405.94 1693.57,2406.89 1695.31,2407.72 1697.04,2408.42 1698.78,2409.00 1700.51,2409.45 1702.25,2409.78 1703.98,2409.97 1705.72,2410.02 1707.45,2409.94" fill="none" stroke="#ff0000" stroke-width="4.3" stroke-linejoin="round" />
<rect x="1002.70" y="2432.92" width="25" height="25" fill="#ff0000"/>
<rect x="1048.85" y="2432.92" width="25" height="25" fill="#ff0000"/>
<rect x="1095.00" y="2388.72" width="25" height="25" fill="#ff0000"/>
<rect x="1141.15" y="2285.77" width="25" height="25" fill="#ff0000"/>
<rect x="1187.30" y="2121.76" width="25" height="25" fill="#ff0000"/>
<rect x="1233.45" y="1928.09" width="25" height="25" fill="#ff0000"/>
<rect x="1279.60" y="1763.21" width="25" height="25" fill="#ff0000"/>
<rect x="1325.75" y="1694.00" width="25" height="25" fill="#ff0000"/>
<rect x="1371.90" y="1737.33" width="25" height="25" fill="#ff0000"/>
<rect x="1418.05" y="1826.31" width="25" height="25" fill="#ff0000"/>
<rect x="1464.20" y="1928.09" width="25" height="25" fill="#ff0000"/>
<rect x="1510.35" y="2033.36" width="25" height="25" fill="#ff0000"/>
<rect x="1556.50" y="2144.16" width="25" height="25" fill="#ff0000"/>
<rect x="1602.65" y="2261.93" width="25" height="25" fill="#ff0000"/>
<rect x="1648.80" y="2359.06" width="25" height="25" fill="#ff0000"/>
<rect x="1694.95" y="2397.44" width="25" height="25" fill="#ff0000"/>
<circle cx="1016.5" cy="2448.20" r="12" fill="#fa3e3e"/>
<polyline points="1015.20,2409.94 1016.93,2410.02 1018.67,2409.97 1020.40,2409.78 1022.14,2409.45 1023.87,2409.00 1025.61,2408.42 1027.34,2407.72 1029.08,2406.89 1030.81,2405.94 1032.55,2404.87 1034.28,2403.68 1036.02,2402.38 1037.75,2400.97 1039.49,2399.44 1041.22,2397.81 1042.96,2396.06 1044.69,2394.22 1046.43,2392.27 1048.16,2390.22 1049.90,2388.07 1051.63,2385.82 1053.37,2383.48 1055.10,2381.05 1056.84,2378.53 1058.57,2375.91 1060.31,2373.22 1062.04,2370.43 1063.78,2367.57 1065.51,2364.62 1067.25,2361.60 1068.98,2358.50 1070.72,2355.33 1072.45,2352.09 1074.19,2348.77 1075.92,2345.39 1077.66,2341.94 1079.39,2338.43 1081.13,2334.86 1082.86,2331.22 1084.60,2327.53 1086.33,2323.79 1088.07,2319.99 1089.80,2316.14 1091.54,2312.24 1093.27,2308.30 1095.01,2304.31 1096.74,2300.27 1098.48,2296.20 1100.21,2292.08 1101.95,2287.93 1103.68,2283.75 1105.42,2279.53 1107.15,2275.28 1108.89,2271.01 1110.62,2266.70 1112.36,2262.37 1114.09,2258.02 1115.83,2253.65 1117.56,2249.26 1119.30,2244.85 1121.03,2240.42 1122.77,2235.99 1124.50,2231.53 1126.24,2227.07 1127.97,2222.60 1129.71,2218.13 1131.44,2213.65 1133.18,2209.16 1134.91,2204.68 1136.65,2200.19 1138.38,2195.71 1140.12,2191.23 1141.85,2186.76 1143.59,2182.30 1145.32,2177.84 1147.06,2173.40 1148.79,2168.97 1150.53,2164.56 1152.26,2160.16 1154.00,2155.78 1155.73,2151.42 1157.47,2147.08 1159.20,2142.76 1160.94,2138.46 1162.67,2134.18 1164.41,2129.92 1166.14,2125.67 1167.88,2121.44 1169.61,2117.22 1171.35,2113.02 1173.08,2108.83 1174.82,2104.66 1176.55,2100.50 1178.29,2096.36 1180.02,2092.23 1181.76,2088.11 1183.49,2084.00 1185.23,2079.91 1186.96,2075.82 1188.70,2071.74 1190.43,2067.68 1192.17,2063.62 1193.90,2059.57 1195.64,2055.53 1197.37,2051.50 1199.11,2047.47 1200.84,2043.45 1202.58,2039.43 1204.31,2035.43 1206.05,2031.42 1207.78,2027.43 1209.52,2023.43 1211.25,2019.45 1212.99,2015.47 1214.72,2011.49 1216.46,2007.52 1218.19,2003.55 1219.93,1999.59 1221.66,1995.63 1223.40,1991.68 1225.13,1987.73 1226.87,1983.78 1228.60,1979.84 1230.34,1975.90 1232.07,1971.97 1233.81,1968.04 1235.54,1964.11 1237.28,1960.18 1239.01,1956.26 1240.75,1952.34 1242.48,1948.42 1244.22,1944.50 1245.95,1940.59 1247.68,1936.68 1249.42,1932.77 1251.15,1928.87 1252.89,1924.96 1254.62,1921.07 1256.36,1917.17 1258.09,1913.28 1259.83,1909.40 1261.56,1905.52 1263.30,1901.65 1265.03,1897.79 1266.77,1893.93 1268.50,1890.09 1270.24,1886.25 1271.97,1882.42 1273.71,1878.60 1275.44,1874.79 1277.18,1870.99 1278.91,1867.20 1280.65,1863.42 1282.38,1859.65 1284.12,1855.90 1285.85,1852.16 1287.59,1848.43 1289.32,1844.72 1291.06,1841.02 1292.79,1837.34 1294.53,1833.67 1296.26,1830.02 1298.00,1826.39 1299.73,1822.78 1301.47,1819.18 1303.20,1815.61 1304.94,1812.06 1306.67,1808.54 1308.41,1805.04 1310.14,1801.56 1311.88,1798.11 1313.61,1794.69 1315.35,1791.30 1317.08,1787.94 1318.82,1784.61 1320.55,1781.32 1322.29,1778.06 1324.02,1774.83 1325.76,1771.64 1327.49,1768.48 1329.23,1765.37 1330.96,1762.29 1332.70,1759.26 1334.43,1756.26 1336.17,1753.31 1337.90,1750.40 1339.64,1747.54 1341.37,1744.73 1343.11,1741.97 1344.84,1739.27 1346.58,1736.64 1348.31,1734.08 1350.05,1731.60 1351.78,1729.20 1353.52,1726.89 1355.25,1724.67 1356.99,1722.55 1358.72,1720.54 1360.46,1718.63 1362.19,1716.84 1363.93,1715.17 1365.66,1713.63 1367.40,1712.22 1369.13,1710.95 1370.87,1709.81 1372.60,1708.83 1374.34,1708.00 1376.07,1707.33 1377.81,1706.82 1379.54,1706.49 1381.28,1706.33 1383.01,1706.35 1384.75,1706.55 1386.48,1706.95 1388.22,1707.53 1389.95,1708.31 1391.69,1709.26 1393.42,1710.41 1395.16,1711.73 1396.89,1713.23 1398.63,1714.91 1400.36,1716.77 1402.10,1718.81 1403.83,1721.02 1405.57,1723.40 1407.30,1725.95 1409.04,1728.66 1410.77,1731.55 1412.51,1734.60 1414.24,1737.81 1415.98,1741.19 1417.71,1744.73 1419.45,1748.42 1421.18,1752.27 1422.92,1756.28 1424.65,1760.44 1426.39,1764.75 1428.12,1769.21 1429.86,1773.82 1431.59,1778.58 1433.33,1783.48 1435.06,1788.52 1436.80,1793.69 1438.53,1799.00 1440.27,1804.43 1442.00,1809.99 1443.74,1815.66 1445.47,1821.45 1447.21,1827.35 1448.94,1833.36 1450.68,1839.47 1452.41,1845.68 1454.15,1851.98 1455.88,1858.37 1457.62,1864.85 1459.35,1871.41 1461.09,1878.04 1462.82,1884.75 1464.56,1891.53 1466.29,1898.38 1468.03,1905.28 1469.76,1912.25 1471.50,1919.26 1473.23,1926.33 1474.97,1933.44 1476.70,1940.59 1478.43,1947.78 1480.17,1955.00 1481.90,1962.25 1483.64,1969.53 1485.37,1976.83 1487.11,1984.15 1488.84,1991.49 1490.58,1998.85 1492.31,2006.21 1494.05,2013.58 1495.78,2020.96 1497.52,2028.34 1499.25,2035.72 1500.99,2043.09 1502.72,2050.46 1504.46,2057.81 1506.19,2065.15 1507.93,2072.47 1509.66,2079.78 1511.40,2087.05 1513.13,2094.31 1514.87,2101.53 1516.60,2108.71 1518.34,2115.86 1520.07,2122.98 1521.81,2130.04 1523.54,2137.07 1525.28,2144.04 1527.01,2150.96 1528.75,2157.83 1530.48,2164.65 1532.22,2171.41 1533.95,2178.12 1535.69,2184.76 1537.42,2191.34 1539.16,2197.86 1540.89,2204.31 1542.63,2210.70 1544.36,2217.02 1546.10,2223.27 1547.83,2229.44 1549.57,2235.55 1551.30,2241.57 1553.04,2247.52 1554.77,2253.39 1556.51,2259.17 1558.24,2264.88 1559.98,2270.50 1561.71,2276.03 1563.45,2281.47 1565.18,2286.83 1566.92,2292.09 1568.65,2297.25 1570.39,2302.32 1572.12,2307.30 1573.86,2312.18 1575.59,2316.96 1577.33,2321.65 1579.06,2326.25 1580.80,2330.75 1582.53,2335.16 1584.27,2339.47 1586.00,2343.70 1587.74,2347.83 1589.47,2351.87 1591.21,2355.82 1592.94,2359.67 1594.68,2363.44 1596.41,2367.12 1598.15,2370.70 1599.88,2374.20 1601.62,2377.61 1603.35,2380.94 1605.09,2384.17 1606.82,2387.32 1608.56,2390.38 1610.29,2393.35 1612.03,2396.24 1613.76,2399.04 1615.50,2401.75 1617.23,2404.39 1618.97,2406.93 1620.70,2409.40 1622.44,2411.78 1624.17,2414.08 1625.91,2416.30 1627.64,2418.45 1629.38,2420.51 1631.11,2422.49 1632.85,2424.40 1634.58,2426.23 1636.32,2427.99 1638.05,2429.67 1639.79,2431.28 1641.52,2432.81 1643.26,2434.27 1644.99,2435.67 1646.73,2436.99 1648.46,2438.24 1650.20,2439.42 1651.93,2440.54 1653.67,2441.58 1655.40,2442.57 1657.14,2443.48 1658.87,2444.33 1660.61,2445.12 1662.34,2445.85 1664.08,2446.51 1665.81,2447.11 1667.55,2447.66 1669.28,2448.14 1671.02,2448.56 1672.75,2448.93 1674.49,2449.24 1676.22,2449.49 1677.96,2449.69 1679.69,2449.83 1681.43,2449.92 1683.16,2449.96 1684.90,2449.95 1686.63,2449.88 1688.37,2449.76 1690.10,2449.60 1691.84,2449.39 1693.57,2449.12 1695.31,2448.82 1697.04,2448.46 1698.78,2448.06 1700.51,2447.62 1702.25,2447.13 1703.98,2446.60 1705.72,2446.03 1707.45,2445.42" fill="none" stroke="#0000ff" stroke-width="4.3" stroke-linejoin="round" />
<rect x="1002.70" y="2397.44" width="25" height="25" fill="#0000ff"/>
<rect x="1048.85" y="2359.06" width="25" height="25" fill="#0000ff"/>
<rect x="1095.00" y="2261.93" width="25" height="25" fill="#0000ff"/>
<rect x="1141.15" y="2144.16" width="25" height="25" fill="#0000ff"/>
<rect x="1187.30" y="2033.36" width="25" height="25" fill="#0000ff"/>
<rect x="1233.45" y="1928.09" width="25" height="25" fill="#0000ff"/>
<rect x="1279.60" y="1826.31" width="25" height="25" fill="#0000ff"/>
<rect x="1325.75" y="1737.33" width="25" height="25" fill="#0000ff"/>
<rect x="1371.90" y="1694.00" width="25" height="25" fill="#0000ff"/>
<rect x="1418.05" y="1763.21" width="25" height="25" fill="#0000ff"/>
<rect x="1464.20" y="1928.09" width="25" height="25" fill="#0000ff"/>
<rect x="1510.35" y="2121.76" width="25" height="25" fill="#0000ff"/>
<rect x="1556.50" y="2285.77" width="25" height="25" fill="#0000ff"/>
<rect x="1602.65" y="2388.72" width="25" height="25" fill="#0000ff"/>
<rect x="1648.80" y="2432.92" width="25" height="25" fill="#0000ff"/>
<rect x="1694.95" y="2432.92" width="25" height="25" fill="#0000ff"/>
<line x1="1017" y1="2387.5" x2="1017" y2="2545" stroke="#808080" stroke-width="2.6" stroke-dasharray="4.5 5.55"/>
<text x="311.00" y="2198.50" font-size="80" fill="#0000ff" text-anchor="start" font-weight="bold" >tc</text>
<text x="307.70" y="2435.00" font-size="80" fill="#ff0000" text-anchor="start" font-weight="bold" >gc</text>
<text x="991.00" y="2367.60" font-size="80" fill="#0000ff" text-anchor="start" font-weight="bold" >tt</text>
<text x="986.50" y="2519.20" font-size="80" fill="#ff0000" text-anchor="start" font-weight="bold" >gt</text>
<text x="1681.80" y="2367.60" font-size="80" fill="#ff0000" text-anchor="start" font-weight="bold" >tt</text>
<text x="1668.50" y="2515.80" font-size="80" fill="#0000ff" text-anchor="start" font-weight="bold" >gt</text>
<text x="337.00" y="85.10" font-size="76.7" fill="#0000ff" text-anchor="start" >OH-rotamerization</text>
<text x="1069.20" y="83.60" font-size="76.7" fill="#0000ff">C<tspan font-size="45" dy="29">3</tspan><tspan dy="-29">H</tspan><tspan font-size="45" dy="29">7</tspan><tspan dy="-29">-rotamerization</tspan></text>
<text x="344.00" y="2727.80" font-size="76.7" fill="#ff0000" text-anchor="start" >OH-rotamerization</text>
<text x="1077.30" y="2736.00" font-size="76.7" fill="#ff0000">C<tspan font-size="45" dy="29">3</tspan><tspan dy="-29">H</tspan><tspan font-size="45" dy="29">7</tspan><tspan dy="-29">-rotamerization</tspan></text>
<text x="1885.00" y="210.50" font-size="76" fill="#000" text-anchor="start" >Carvacrol (a)</text>
<text x="1925.50" y="1541.50" font-size="76" fill="#000" text-anchor="start" >Thymol (b)</text>
<text transform="translate(84.2,1187.3) rotate(-90)" font-size="76.7" fill="#000">Relative Energy / kJ mol<tspan font-size="46" dy="-38" dx="12.4">−</tspan><tspan font-size="46" dy="-4" dx="1.6">1</tspan></text>
<text transform="translate(84.2,2516.6) rotate(-90)" font-size="76.7" fill="#000">Relative Energy / kJ mol<tspan font-size="46" dy="-38" dx="12.4">−</tspan><tspan font-size="46" dy="-4" dx="1.6">1</tspan></text>
<polygon points="2037.75,427.02 2113.25,427.02 2151.00,492.40 2113.25,557.78 2037.75,557.78 2000.00,492.40" fill="none" stroke="#000" stroke-width="4.4" stroke-linejoin="miter"/>
<line x1="2045.43" y1="440.32" x2="2105.57" y2="440.32" stroke="#000" stroke-width="4.4" stroke-linecap="butt"/>
<line x1="2135.64" y1="492.40" x2="2105.57" y2="544.48" stroke="#000" stroke-width="4.4" stroke-linecap="butt"/>
<line x1="2045.43" y1="544.48" x2="2015.36" y2="492.40" stroke="#000" stroke-width="4.4" stroke-linecap="butt"/>
<line x1="2037.75" y1="427.02" x2="2014.00" y2="385.88" stroke="#000" stroke-width="4.4" stroke-linecap="butt"/>
<line x1="2014.00" y1="337.38" x2="2021.50" y2="324.39" stroke="#000" stroke-width="4.4" stroke-linecap="butt"/>
<text transform="translate(1979.77,380.25) scale(1,1.045)" font-size="52" fill="#000">O</text>
<text transform="translate(2018.98,314.86) scale(1,1.045)" font-size="52" fill="#000">H</text>
<line x1="1948.00" y1="492.40" x2="2000.00" y2="492.40" stroke="#000" stroke-width="4.4" stroke-linecap="butt"/>
<text transform="translate(1846.19,511.02) scale(1,1.045)" font-size="52" fill="#000">H<tspan font-size="39" dy="11.29">3</tspan><tspan dy="-11.29">C</tspan></text>
<line x1="2151.00" y1="492.40" x2="2227.50" y2="492.40" stroke="#000" stroke-width="4.4" stroke-linecap="butt"/>
<line x1="2225.70" y1="493.80" x2="2248.25" y2="454.73" stroke="#000" stroke-width="4.4" stroke-linecap="butt"/>
<text transform="translate(2245.48,445.63) scale(1,1.045)" font-size="52" fill="#000">H</text>
<polygon points="2224.30,491.90 2218.10,550.60 2234.80,550.60 2228.70,491.90" fill="#000"/>
<line x1="2236.13" y1="503.16" x2="2240.07" y2="498.64" stroke="#000" stroke-width="4.2" stroke-linecap="butt"/>
<line x1="2247.00" y1="515.59" x2="2254.80" y2="506.61" stroke="#000" stroke-width="4.2" stroke-linecap="butt"/>
<line x1="2258.87" y1="527.96" x2="2271.13" y2="513.84" stroke="#000" stroke-width="4.2" stroke-linecap="butt"/>
<text transform="translate(2268.42,556.82) scale(1,1.045)" font-size="52" fill="#000">CH<tspan font-size="39" dy="11.29">3</tspan></text>
<text transform="translate(2207.32,596.92) scale(1,1.045)" font-size="52" fill="#000">CH<tspan font-size="39" dy="11.29">3</tspan></text>
<text x="2039.00" y="672.30" font-size="87" font-weight="bold" fill="#000">ct</text>
<polygon points="2034.00,959.47 2108.40,959.47 2145.60,1023.90 2108.40,1088.33 2034.00,1088.33 1996.80,1023.90" fill="none" stroke="#000" stroke-width="4.4" stroke-linejoin="miter"/>
<line x1="2041.68" y1="972.77" x2="2100.72" y2="972.77" stroke="#000" stroke-width="4.4" stroke-linecap="butt"/>
<line x1="2130.24" y1="1023.90" x2="2100.72" y2="1075.03" stroke="#000" stroke-width="4.4" stroke-linecap="butt"/>
<line x1="2041.68" y1="1075.03" x2="2012.16" y2="1023.90" stroke="#000" stroke-width="4.4" stroke-linecap="butt"/>
<line x1="2034.00" y1="959.47" x2="2010.80" y2="919.28" stroke="#000" stroke-width="4.4" stroke-linecap="butt"/>
<line x1="2010.80" y1="870.79" x2="2017.75" y2="858.75" stroke="#000" stroke-width="4.4" stroke-linecap="butt"/>
<text transform="translate(1976.57,913.65) scale(1,1.045)" font-size="52" fill="#000">O</text>
<text transform="translate(2015.23,849.22) scale(1,1.045)" font-size="52" fill="#000">H</text>
<line x1="1945.90" y1="1023.90" x2="1996.80" y2="1023.90" stroke="#000" stroke-width="4.4" stroke-linecap="butt"/>
<text transform="translate(1844.09,1042.52) scale(1,1.045)" font-size="52" fill="#000">H<tspan font-size="39" dy="11.29">3</tspan><tspan dy="-11.29">C</tspan></text>
<line x1="2145.60" y1="1023.90" x2="2221.00" y2="1023.90" stroke="#000" stroke-width="4.4" stroke-linecap="butt"/>
<line x1="2219.20" y1="1022.50" x2="2241.70" y2="1061.49" stroke="#000" stroke-width="4.4" stroke-linecap="butt"/>
<text transform="translate(2238.43,1106.95) scale(1,1.045)" font-size="52" fill="#000">H</text>
<polygon points="2220.61,1026.01 2268.50,1018.40 2262.50,1003.20 2219.39,1021.79" fill="#000"/>
<line x1="2220.01" y1="1006.80" x2="2231.99" y2="1012.80" stroke="#000" stroke-width="4.2" stroke-linecap="butt"/>
<line x1="2227.98" y1="991.43" x2="2240.22" y2="997.57" stroke="#000" stroke-width="4.2" stroke-linecap="butt"/>
<line x1="2235.78" y1="975.63" x2="2248.02" y2="981.77" stroke="#000" stroke-width="4.2" stroke-linecap="butt"/>
<text transform="translate(2235.42,971.52) scale(1,1.045)" font-size="52" fill="#000">CH<tspan font-size="39" dy="11.29">3</tspan></text>
<text transform="translate(2270.42,1022.52) scale(1,1.045)" font-size="52" fill="#000">CH<tspan font-size="39" dy="11.29">3</tspan></text>
<text x="2040.00" y="1197.90" font-size="87" font-weight="bold" fill="#000">tt</text>
<polygon points="2034.00,1875.47 2108.40,1875.47 2145.60,1939.90 2108.40,2004.33 2034.00,2004.33 1996.80,1939.90" fill="none" stroke="#000" stroke-width="4.4" stroke-linejoin="miter"/>
<line x1="2041.68" y1="1888.77" x2="2100.72" y2="1888.77" stroke="#000" stroke-width="4.4" stroke-linecap="butt"/>
<line x1="2130.24" y1="1939.90" x2="2100.72" y2="1991.03" stroke="#000" stroke-width="4.4" stroke-linecap="butt"/>
<line x1="2041.68" y1="1991.03" x2="2012.16" y2="1939.90" stroke="#000" stroke-width="4.4" stroke-linecap="butt"/>
<line x1="2108.40" y1="1875.47" x2="2131.60" y2="1835.28" stroke="#000" stroke-width="4.4" stroke-linecap="butt"/>
<line x1="2131.60" y1="1786.79" x2="2124.65" y2="1774.75" stroke="#000" stroke-width="4.4" stroke-linecap="butt"/>
<text transform="translate(2125.37,1829.65) scale(1,1.045)" font-size="52" fill="#000">O</text>
<text transform="translate(2089.63,1765.22) scale(1,1.045)" font-size="52" fill="#000">H</text>
<line x1="1945.90" y1="1939.90" x2="1996.80" y2="1939.90" stroke="#000" stroke-width="4.4" stroke-linecap="butt"/>
<text transform="translate(1844.09,1958.52) scale(1,1.045)" font-size="52" fill="#000">H<tspan font-size="39" dy="11.29">3</tspan><tspan dy="-11.29">C</tspan></text>
<line x1="2145.60" y1="1939.90" x2="2221.00" y2="1939.90" stroke="#000" stroke-width="4.4" stroke-linecap="butt"/>
<line x1="2219.20" y1="1938.50" x2="2241.70" y2="1977.49" stroke="#000" stroke-width="4.4" stroke-linecap="butt"/>
<text transform="translate(2238.43,2022.95) scale(1,1.045)" font-size="52" fill="#000">H</text>
<polygon points="2220.61,1942.01 2268.50,1934.40 2262.50,1919.20 2219.39,1937.79" fill="#000"/>
<line x1="2220.01" y1="1922.80" x2="2231.99" y2="1928.80" stroke="#000" stroke-width="4.2" stroke-linecap="butt"/>
<line x1="2227.98" y1="1907.43" x2="2240.22" y2="1913.57" stroke="#000" stroke-width="4.2" stroke-linecap="butt"/>
<line x1="2235.78" y1="1891.63" x2="2248.02" y2="1897.77" stroke="#000" stroke-width="4.2" stroke-linecap="butt"/>
<text transform="translate(2235.42,1887.52) scale(1,1.045)" font-size="52" fill="#000">CH<tspan font-size="39" dy="11.29">3</tspan></text>
<text transform="translate(2270.42,1938.52) scale(1,1.045)" font-size="52" fill="#000">CH<tspan font-size="39" dy="11.29">3</tspan></text>
<text x="2039.00" y="2112.60" font-size="87" font-weight="bold" fill="#000">tt</text>
<polygon points="2034.90,2380.69 2109.50,2380.69 2146.80,2445.30 2109.50,2509.91 2034.90,2509.91 1997.60,2445.30" fill="none" stroke="#000" stroke-width="4.4" stroke-linejoin="miter"/>
<line x1="2042.58" y1="2393.99" x2="2101.82" y2="2393.99" stroke="#000" stroke-width="4.4" stroke-linecap="butt"/>
<line x1="2131.44" y1="2445.30" x2="2101.82" y2="2496.61" stroke="#000" stroke-width="4.4" stroke-linecap="butt"/>
<line x1="2042.58" y1="2496.61" x2="2012.96" y2="2445.30" stroke="#000" stroke-width="4.4" stroke-linecap="butt"/>
<line x1="2109.50" y1="2380.69" x2="2132.80" y2="2340.34" stroke="#000" stroke-width="4.4" stroke-linecap="butt"/>
<line x1="2132.80" y1="2291.84" x2="2125.75" y2="2279.63" stroke="#000" stroke-width="4.4" stroke-linecap="butt"/>
<text transform="translate(2126.57,2334.71) scale(1,1.045)" font-size="52" fill="#000">O</text>
<text transform="translate(2090.73,2270.10) scale(1,1.045)" font-size="52" fill="#000">H</text>
<line x1="1946.50" y1="2445.30" x2="1997.60" y2="2445.30" stroke="#000" stroke-width="4.4" stroke-linecap="butt"/>
<text transform="translate(1844.69,2463.92) scale(1,1.045)" font-size="52" fill="#000">H<tspan font-size="39" dy="11.29">3</tspan><tspan dy="-11.29">C</tspan></text>
<line x1="2146.80" y1="2445.30" x2="2222.40" y2="2445.30" stroke="#000" stroke-width="4.4" stroke-linecap="butt"/>
<polygon points="2221.40,2446.30 2228.60,2403.00 2241.00,2406.20" fill="#fff" stroke="#000" stroke-width="3.4" stroke-linejoin="miter"/>
<text transform="translate(2226.63,2393.52) scale(1,1.045)" font-size="52" fill="#000">H</text>
<polygon points="2219.24,2445.70 2224.10,2503.80 2239.90,2500.40 2223.56,2444.90" fill="#000"/>
<line x1="2232.12" y1="2454.66" x2="2235.68" y2="2447.94" stroke="#000" stroke-width="4.2" stroke-linecap="butt"/>
<line x1="2246.40" y1="2464.45" x2="2252.40" y2="2453.15" stroke="#000" stroke-width="4.2" stroke-linecap="butt"/>
<line x1="2260.71" y1="2474.76" x2="2269.49" y2="2458.24" stroke="#000" stroke-width="4.2" stroke-linecap="butt"/>
<text transform="translate(2270.42,2496.82) scale(1,1.045)" font-size="52" fill="#000">CH<tspan font-size="39" dy="11.29">3</tspan></text>
<text transform="translate(2218.72,2547.02) scale(1,1.045)" font-size="52" fill="#000">CH<tspan font-size="39" dy="11.29">3</tspan></text>
<text x="2040.00" y="2615.60" font-size="87" font-weight="bold" fill="#000">gt</text>
</svg></body></html>
